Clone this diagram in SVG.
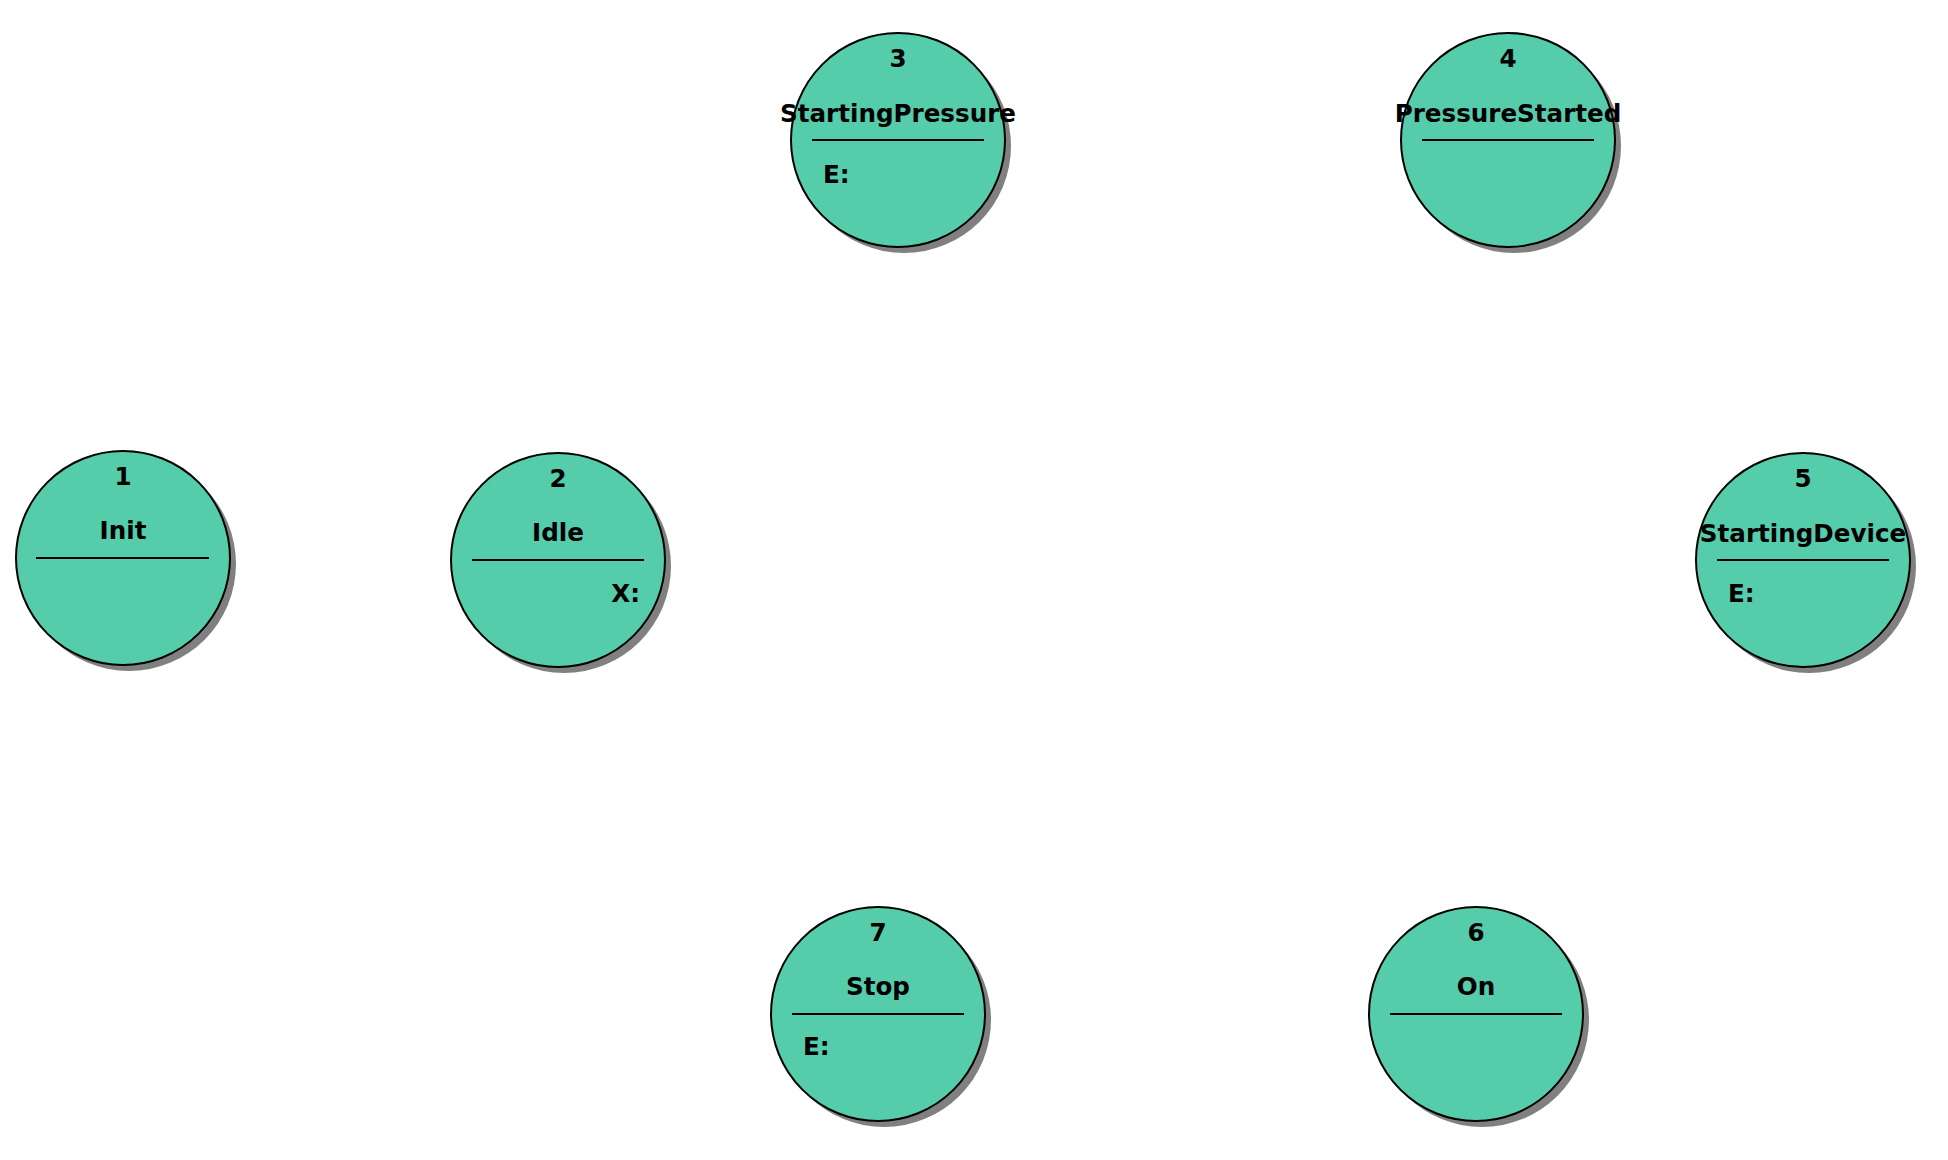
<svg xmlns="http://www.w3.org/2000/svg" width="1948" height="1160" viewBox="0 0 1948 1160">
<style>
.shadow{fill:#808080;stroke:none}
.body{fill:#55CCAA;stroke:#000;stroke-width:2}
.div{stroke:#000;stroke-width:2}
text{font-family:"DejaVu Sans","Liberation Sans",sans-serif;font-weight:bold;font-size:24.6px;fill:#000}
.c{text-anchor:middle}
.r{text-anchor:end}
</style>
<rect width="1948" height="1160" fill="#fff"/>
<g id="connectors"></g>
<g id="node1">
<circle class="shadow" cx="129" cy="564" r="107"/>
<circle class="body" cx="123" cy="558" r="107"/>
<line class="div" x1="36" y1="558" x2="209" y2="558"/>
<text class="c" x="123" y="485">1</text>
<text class="c" x="123" y="539">Init</text>
</g>
<g id="node2">
<circle class="shadow" cx="564" cy="566" r="107"/>
<circle class="body" cx="558" cy="560" r="107"/>
<line class="div" x1="472" y1="560" x2="644" y2="560"/>
<text class="c" x="558" y="487">2</text>
<text class="c" x="558" y="541">Idle</text>
<text class="r" x="640" y="602">X:</text>
</g>
<g id="node3">
<circle class="shadow" cx="904" cy="146" r="107"/>
<circle class="body" cx="898" cy="140" r="107"/>
<line class="div" x1="812" y1="140" x2="984" y2="140"/>
<text class="c" x="898" y="67">3</text>
<text class="c" x="898" y="122">StartingPressure</text>
<text x="823" y="183">E:</text>
</g>
<g id="node4">
<circle class="shadow" cx="1514" cy="146" r="107"/>
<circle class="body" cx="1508" cy="140" r="107"/>
<line class="div" x1="1422" y1="140" x2="1594" y2="140"/>
<text class="c" x="1508" y="67">4</text>
<text class="c" x="1508" y="122">PressureStarted</text>
</g>
<g id="node5">
<circle class="shadow" cx="1809" cy="566" r="107"/>
<circle class="body" cx="1803" cy="560" r="107"/>
<line class="div" x1="1717" y1="560" x2="1889" y2="560"/>
<text class="c" x="1803" y="487">5</text>
<text class="c" x="1803" y="542">StartingDevice</text>
<text x="1728" y="602">E:</text>
</g>
<g id="node6">
<circle class="shadow" cx="1482" cy="1020" r="107"/>
<circle class="body" cx="1476" cy="1014" r="107"/>
<line class="div" x1="1390" y1="1014" x2="1562" y2="1014"/>
<text class="c" x="1476" y="941">6</text>
<text class="c" x="1476" y="995">On</text>
</g>
<g id="node7">
<circle class="shadow" cx="884" cy="1020" r="107"/>
<circle class="body" cx="878" cy="1014" r="107"/>
<line class="div" x1="792" y1="1014" x2="964" y2="1014"/>
<text class="c" x="878" y="941">7</text>
<text class="c" x="878" y="995">Stop</text>
<text x="803" y="1055">E:</text>
</g>
</svg>
